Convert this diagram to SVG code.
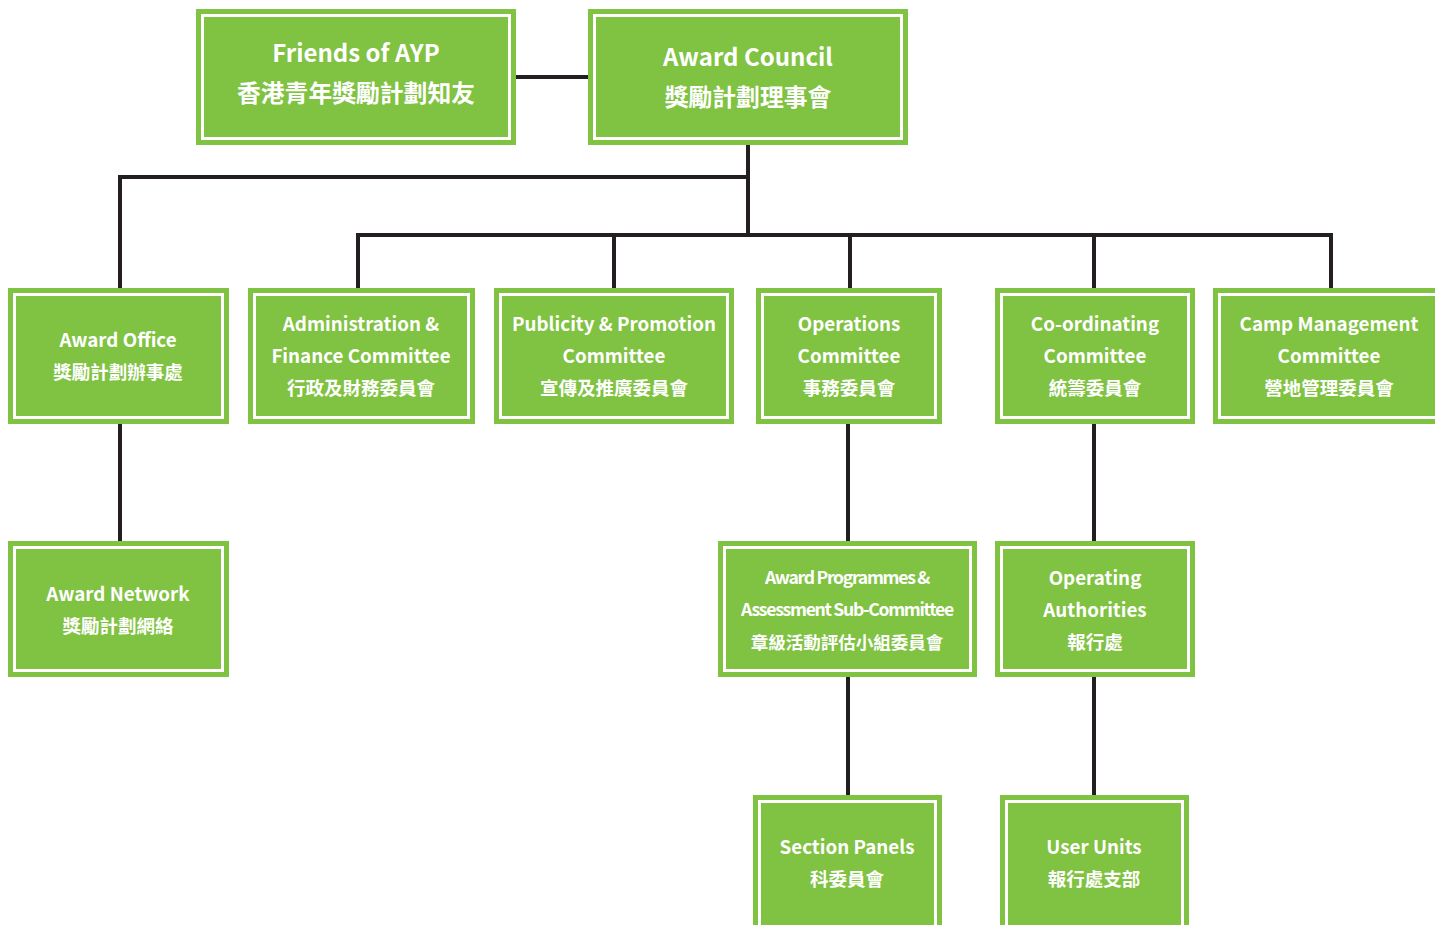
<svg xmlns="http://www.w3.org/2000/svg" width="1435" height="925" viewBox="0 0 1435 925">
<style>
.box{fill:#80c242}
.inner{fill:none;stroke:#ffffff;stroke-width:3}
.t{fill:#ffffff;font-family:"Noto Sans CJK TC","Noto Sans",sans-serif;font-weight:700;text-anchor:middle}
.big{font-size:24px}
.bigc{font-size:23.8px}
.m{font-size:18.8px}
.mc{font-size:18.5px}
.s{font-size:17.6px;letter-spacing:-1.3px}
.sc{font-size:17.5px}
.conn{stroke:#231f20;stroke-width:4;fill:none}
</style>
<rect width="1435" height="925" fill="#ffffff"/>
<g id="connectors">
<line class="conn" x1="516" y1="77" x2="588" y2="77"/>
<polyline class="conn" points="748,145 748,235"/>
<polyline class="conn" points="748,177 120,177 120,290"/>
<polyline class="conn" points="358,290 358,235 1331,235 1331,290"/>
<line class="conn" x1="614" y1="235" x2="614" y2="290"/>
<line class="conn" x1="850" y1="235" x2="850" y2="290"/>
<line class="conn" x1="1094" y1="235" x2="1094" y2="290"/>
<line class="conn" x1="120" y1="424" x2="120" y2="542"/>
<line class="conn" x1="848" y1="424" x2="848" y2="542"/>
<line class="conn" x1="848" y1="677" x2="848" y2="796"/>
<line class="conn" x1="1094" y1="424" x2="1094" y2="542"/>
<line class="conn" x1="1094" y1="677" x2="1094" y2="796"/>
</g>
<g id="friends">
<rect class="box" x="196" y="9" width="320" height="136"/>
<rect class="inner" x="202.5" y="15.5" width="307" height="123"/>
<text class="t big" x="356" y="62">Friends of AYP</text>
<text class="t bigc" x="356" y="102">香港青年獎勵計劃知友</text>
</g>
<g id="council">
<rect class="box" x="588" y="9" width="320" height="136"/>
<rect class="inner" x="594.5" y="15.5" width="307" height="123"/>
<text class="t big" x="748" y="66">Award Council</text>
<text class="t bigc" x="748" y="106">獎勵計劃理事會</text>
</g>
<g id="office">
<rect class="box" x="8" y="288" width="221" height="136"/>
<rect class="inner" x="14.5" y="294.5" width="208" height="123"/>
<text class="t m" x="118" y="347">Award Office</text>
<text class="t mc" x="118" y="379">獎勵計劃辦事處</text>
</g>
<g id="admin">
<rect class="box" x="248" y="288" width="227" height="136"/>
<rect class="inner" x="254.5" y="294.5" width="214" height="123"/>
<text class="t m" x="361" y="331">Administration &amp;</text>
<text class="t m" x="361" y="363">Finance Committee</text>
<text class="t mc" x="361" y="395">行政及財務委員會</text>
</g>
<g id="publicity">
<rect class="box" x="494" y="288" width="240" height="136"/>
<rect class="inner" x="500.5" y="294.5" width="227" height="123"/>
<text class="t m" x="614" y="331">Publicity &amp; Promotion</text>
<text class="t m" x="614" y="363">Committee</text>
<text class="t mc" x="614" y="395">宣傳及推廣委員會</text>
</g>
<g id="operations">
<rect class="box" x="756" y="288" width="186" height="136"/>
<rect class="inner" x="762.5" y="294.5" width="173" height="123"/>
<text class="t m" x="849" y="331">Operations</text>
<text class="t m" x="849" y="363">Committee</text>
<text class="t mc" x="849" y="395">事務委員會</text>
</g>
<g id="coordinating">
<rect class="box" x="995" y="288" width="200" height="136"/>
<rect class="inner" x="1001.5" y="294.5" width="187" height="123"/>
<text class="t m" x="1095" y="331">Co-ordinating</text>
<text class="t m" x="1095" y="363">Committee</text>
<text class="t mc" x="1095" y="395">統籌委員會</text>
</g>
<g id="camp">
<rect class="box" x="1213" y="288" width="232" height="136"/>
<rect class="inner" x="1219.5" y="294.5" width="219" height="123"/>
<text class="t m" x="1329" y="331">Camp Management</text>
<text class="t m" x="1329" y="363">Committee</text>
<text class="t mc" x="1329" y="395">營地管理委員會</text>
</g>
<g id="network">
<rect class="box" x="8" y="541" width="221" height="136"/>
<rect class="inner" x="14.5" y="547.5" width="208" height="123"/>
<text class="t m" x="118" y="601">Award Network</text>
<text class="t mc" x="118" y="633">獎勵計劃網絡</text>
</g>
<g id="programmes">
<rect class="box" x="718" y="541" width="259" height="136"/>
<rect class="inner" x="724.5" y="547.5" width="246" height="123"/>
<text class="t s" x="847" y="584">Award Programmes &amp;</text>
<text class="t s" x="847" y="616">Assessment Sub-Committee</text>
<text class="t sc" x="847" y="649">章級活動評估小組委員會</text>
</g>
<g id="authorities">
<rect class="box" x="995" y="541" width="200" height="136"/>
<rect class="inner" x="1001.5" y="547.5" width="187" height="123"/>
<text class="t m" x="1095" y="585">Operating</text>
<text class="t m" x="1095" y="617">Authorities</text>
<text class="t mc" x="1095" y="649">報行處</text>
</g>
<g id="section">
<rect class="box" x="753" y="795" width="189" height="140"/>
<rect class="inner" x="759.5" y="801.5" width="176" height="127"/>
<text class="t m" x="847" y="854">Section Panels</text>
<text class="t mc" x="847" y="886">科委員會</text>
</g>
<g id="users">
<rect class="box" x="1000" y="795" width="189" height="140"/>
<rect class="inner" x="1006.5" y="801.5" width="176" height="127"/>
<text class="t m" x="1094" y="854">User Units</text>
<text class="t mc" x="1094" y="886">報行處支部</text>
</g>
</svg>
